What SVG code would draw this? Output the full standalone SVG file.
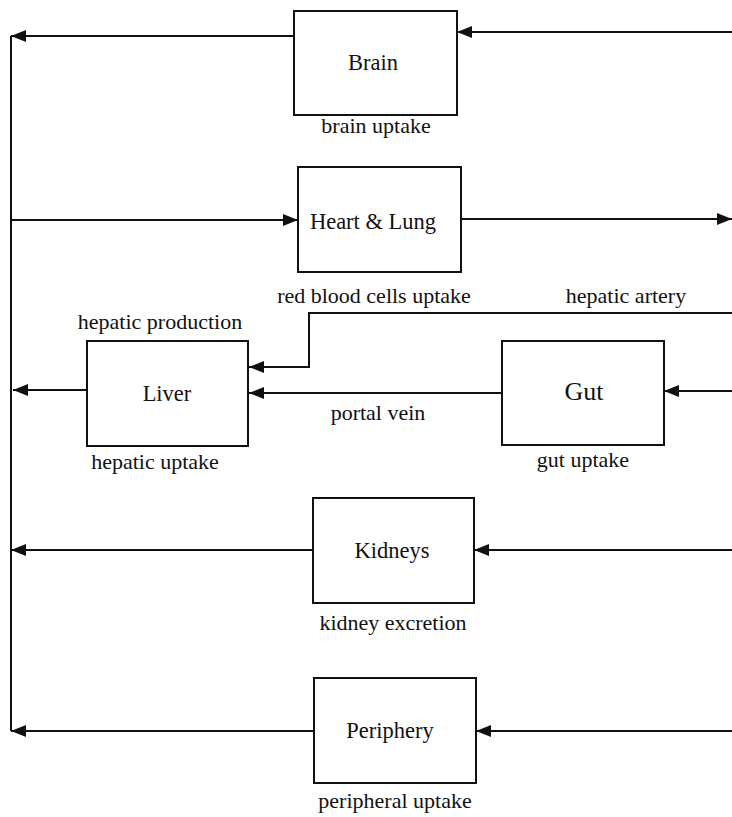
<svg xmlns="http://www.w3.org/2000/svg" width="732" height="817" viewBox="0 0 732 817">
<style>
.box{fill:#fff;stroke:#111;stroke-width:2}
.c{fill:none;stroke:#111;stroke-width:2}
text{font-family:"Liberation Serif","Times New Roman",serif;font-size:22px;fill:#111;text-anchor:middle}
.lbl{font-size:22.5px}
</style>
<defs>
<marker id="ah" markerUnits="userSpaceOnUse" markerWidth="16" markerHeight="12" refX="15" refY="6" orient="auto">
<path d="M0,0 L15,6 L0,12 z" fill="#111"/>
</marker>
</defs>
<g id="connectors">
<line class="c" x1="11" y1="36" x2="11" y2="731"/>
<line class="c" x1="294" y1="36" x2="11" y2="36" marker-end="url(#ah)"/>
<line class="c" x1="732" y1="32" x2="457" y2="32" marker-end="url(#ah)"/>
<line class="c" x1="11" y1="220" x2="298" y2="220" marker-end="url(#ah)"/>
<line class="c" x1="461" y1="219" x2="732" y2="219" marker-end="url(#ah)"/>
<polyline class="c" points="732,313 309,313 309,367 249,367" marker-end="url(#ah)"/>
<line class="c" x1="87" y1="390" x2="13" y2="390" marker-end="url(#ah)"/>
<line class="c" x1="502" y1="393" x2="249" y2="393" marker-end="url(#ah)"/>
<line class="c" x1="732" y1="391" x2="664" y2="391" marker-end="url(#ah)"/>
<line class="c" x1="313" y1="550" x2="11" y2="550" marker-end="url(#ah)"/>
<line class="c" x1="732" y1="550" x2="474" y2="550" marker-end="url(#ah)"/>
<line class="c" x1="313" y1="731" x2="11" y2="731" marker-end="url(#ah)"/>
<line class="c" x1="732" y1="731" x2="476" y2="731" marker-end="url(#ah)"/>
<text x="626" y="303">hepatic artery</text>
<text x="378" y="420">portal vein</text>
</g>
<g id="brain">
<rect class="box" x="294" y="11" width="163" height="104"/>
<text class="lbl" x="373" y="70">Brain</text>
<text x="376" y="133">brain uptake</text>
</g>
<g id="heart-lung">
<rect class="box" x="298" y="167" width="163" height="105"/>
<text class="lbl" x="373" y="229">Heart &amp; Lung</text>
<text x="374" y="303">red blood cells uptake</text>
</g>
<g id="liver">
<rect class="box" x="87" y="341" width="161" height="105"/>
<text class="lbl" x="167" y="401">Liver</text>
<text x="160" y="329">hepatic production</text>
<text x="155" y="469">hepatic uptake</text>
</g>
<g id="gut">
<rect class="box" x="502" y="341" width="162" height="104"/>
<text x="584" y="400" style="font-size:26px">Gut</text>
<text x="583" y="467">gut uptake</text>
</g>
<g id="kidneys">
<rect class="box" x="313" y="498" width="161" height="105"/>
<text class="lbl" x="392" y="558">Kidneys</text>
<text x="393" y="630">kidney excretion</text>
</g>
<g id="periphery">
<rect class="box" x="314" y="678" width="162" height="105"/>
<text class="lbl" x="390" y="738">Periphery</text>
<text x="395" y="808">peripheral uptake</text>
</g>
</svg>
